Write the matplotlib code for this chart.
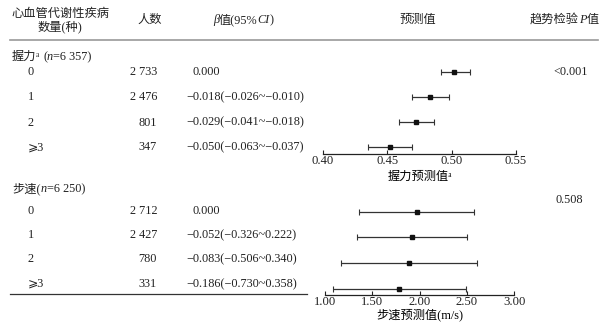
import matplotlib
matplotlib.use("Agg")
import matplotlib.pyplot as plt
from matplotlib.lines import Line2D

# --- data ---
groups = ["0", "1", "2", "⩾3"]

grip_n = ["2 733", "2 476", "801", "347"]
grip_beta = ["0.000", "\u22120.018(\u22120.026~\u22120.010)",
             "\u22120.029(\u22120.041~\u22120.018)", "\u22120.050(\u22120.063~\u22120.037)"]
grip_pred = [0.502, 0.4835, 0.4726, 0.452]
grip_lo = [0.4919, 0.469, 0.4594, 0.4349]
grip_hi = [0.514, 0.4977, 0.4863, 0.469]
grip_p = "<0.001"

speed_n = ["2 712", "2 427", "780", "331"]
speed_beta = ["0.000", "\u22120.052(\u22120.326~0.222)",
              "\u22120.083(\u22120.506~0.340)", "\u22120.186(\u22120.730~0.358)"]
speed_pred = [1.974, 1.924, 1.889, 1.783]
speed_lo = [1.363, 1.335, 1.166, 1.088]
speed_hi = [2.580, 2.506, 2.612, 2.489]
speed_p = "0.508"

grip_ticks = [0.40, 0.45, 0.50, 0.55]
speed_ticks = [1.00, 1.50, 2.00, 2.50, 3.00]

FONT = ["Liberation Serif", "Noto Sans CJK SC", "DejaVu Sans"]
plt.rcParams["font.family"] = FONT
FS = 8.8
W, H = 608, 324

fig = plt.figure(figsize=(W / 100, H / 100), dpi=100)


def px(x, y):
    return x / W, 1 - y / H


def txt(x, y, s, ha="left", va="center", size=FS, color="#222222", style="normal"):
    fx, fy = px(x, y)
    return fig.text(fx, fy, s, ha=ha, va=va, fontsize=size, color=color,
                    style=style)


def pieces(x, y, parts, size=FS):
    # draw a run of text pieces (text, style), left to right
    fig.canvas.draw()
    r = fig.canvas.get_renderer()
    for s, st in parts:
        t = txt(x, y, s, size=size, style=st)
        x += t.get_window_extent(renderer=r).width


def hline(x0, x1, y, color, lw):
    fx0, fy = px(x0, y)
    fx1, _ = px(x1, y)
    fig.add_artist(Line2D([fx0, fx1], [fy, fy], color=color, lw=lw,
                          transform=fig.transFigure))


# header
txt(60, 14, "心血管代谢性疾病", ha="center")
txt(60, 27, "数量(种)", ha="center")
txt(150, 20, "人数", ha="center")
pieces(213, 20, [("β", "italic"), ("值(95%", "normal"), ("CI", "italic"), (")", "normal")])
txt(418, 20, "预测值", ha="center")
pieces(530, 20, [("趋势检验", "normal"), ("P", "italic"), ("值", "normal")])
hline(10, 598, 40, "#999999", 1.2)

# grip block
pieces(12, 57, [("握力", "normal"), ("ᵃ ", "normal"), ("(", "normal"),
                ("n", "italic"), ("=6 357)", "normal")])
grip_rows = [72, 97.5, 122.5, 147.5]
for y, g, n, b in zip(grip_rows, groups, grip_n, grip_beta):
    txt(28, y, g)
    txt(157, y, n, ha="right")
    txt(193 if b[0] != "\u2212" else 186, y, b)
txt(553, 72, grip_p)

# speed block
pieces(12, 189, [("步速(", "normal"), ("n", "italic"), ("=6 250)", "normal")])
speed_rows = [211, 235.5, 259.5, 284]
for y, g, n, b in zip(speed_rows, groups, speed_n, speed_beta):
    txt(28, y, g)
    txt(157, y, n, ha="right")
    txt(193 if b[0] != "\u2212" else 186, y, b)
txt(555, 200, speed_p)
hline(10, 307, 294, "#333333", 0.9)


def forest(left, right, top, bottom, pred, lo, hi, ticks, xlabel, lpad):
    x0, y0 = px(left, bottom)
    x1, y1 = px(right, top)
    ax = fig.add_axes([x0, y0, x1 - x0, y1 - y0])
    pos = [3, 2, 1, 0]
    err = [[p - l for p, l in zip(pred, lo)], [h - p for p, h in zip(pred, hi)]]
    ax.errorbar(pred, pos, xerr=err, fmt="s", color="#111111", ecolor="#333333",
                ms=2.5, elinewidth=0.9, capsize=2, capthick=0.8)
    ax.set_xlim(ticks[0], ticks[-1])
    ax.set_ylim(-0.25, 3.5)
    ax.set_xticks(ticks)
    ax.set_xticklabels([f"{t:.2f}" for t in ticks], fontsize=FS + 0.3)
    ax.tick_params(axis="x", direction="in", length=3, width=0.8, pad=1,
                   colors="#222222")
    ax.set_yticks([])
    for s in ["top", "left", "right"]:
        ax.spines[s].set_visible(False)
    ax.spines["bottom"].set_color("#222222")
    ax.spines["bottom"].set_linewidth(0.9)
    ax.patch.set_alpha(0)
    ax.set_xlabel(xlabel, fontsize=FS, labelpad=lpad)
    return ax


forest(323, 516, 60, 153.5, grip_pred, grip_lo, grip_hi, grip_ticks,
       "握力预测值ᵃ", 3)
forest(325, 514, 199, 295, speed_pred, speed_lo, speed_hi, speed_ticks,
       "步速预测值(m/s)", 0)

fig.savefig("out.png", dpi=100, facecolor="white")
